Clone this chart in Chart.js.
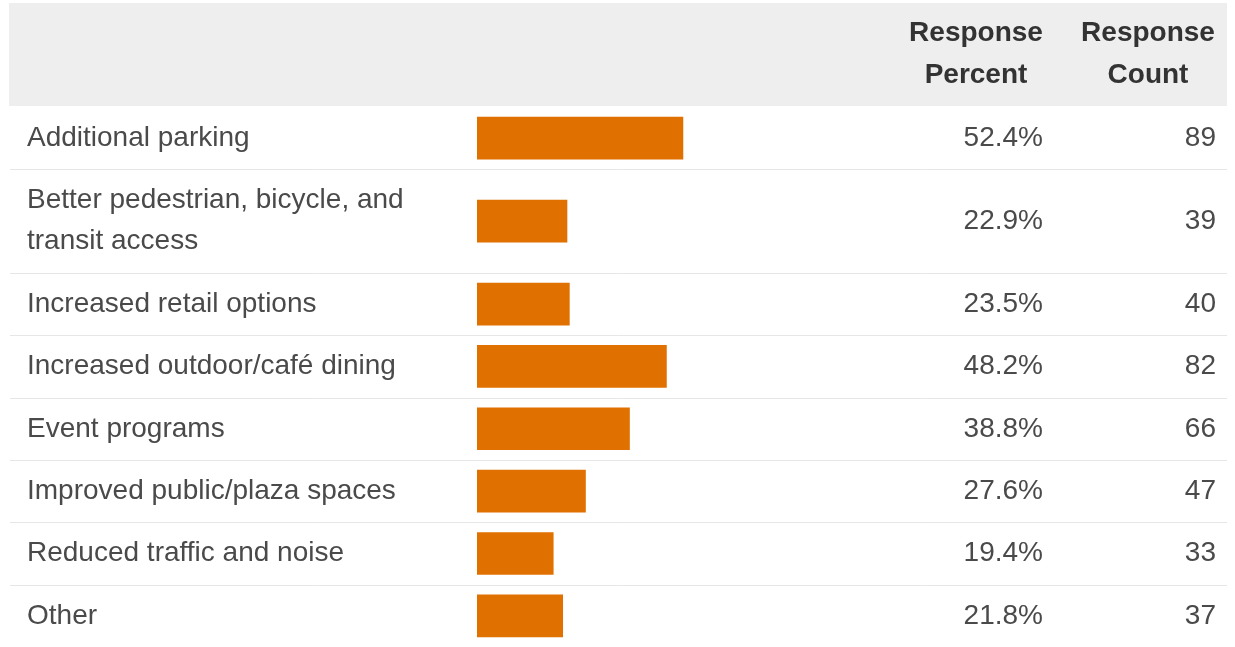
<!DOCTYPE html>
<html>
<head>
<meta charset="utf-8">
<script src="https://cdn.jsdelivr.net/npm/chart.js@4/dist/chart.umd.min.js"></script>
<style>
    html, body { margin: 0; padding: 0; background: #ffffff; }
    #wrap { position: relative; width: 1235px; height: 647px; font-family: "Liberation Sans"; }
</style>
</head>
<body>
<div id="wrap"><canvas id="surveyChart"></canvas></div>
<script>
// answer choices (one inner array per text line)
const choices = [
    ['Additional parking'],
    ['Better pedestrian, bicycle, and', 'transit access'],
    ['Increased retail options'],
    ['Increased outdoor/café dining'],
    ['Event programs'],
    ['Improved public/plaza spaces'],
    ['Reduced traffic and noise'],
    ['Other']
];
const responsePercent = [52.4, 22.9, 23.5, 48.2, 38.8, 27.6, 19.4, 21.8];
const responseCount = [89, 39, 40, 82, 66, 47, 33, 37];
const headerPercent = ['Response', 'Percent'];
const headerCount = ['Response', 'Count'];

const FONT = '"Liberation Sans", Arial, sans-serif';
const LINE = 41;
const PAD = 21;

// row layout in pixel-like units, taller rows for wrapped labels
let rowTop = [];
let rowMid = [];
let acc = 0;
choices.forEach(lines => {
    let h = PAD + LINE * lines.length;
    rowTop.push(acc);
    rowMid.push(acc + h / 2);
    acc += h;
});
rowTop.push(acc);
const total = acc;

const points = responsePercent.map((v, i) => ({x: v, y: rowMid[i]}));

const tablePlugin = {
    id: 'tablePlugin',
    afterDraw(chart) {
        const ctx = chart.ctx;
        const ys = chart.scales.y;
        ctx.save();

        // header band
        ctx.fillStyle = '#eeeeee';
        ctx.fillRect(9, 3, 1218, 103);
        ctx.fillStyle = '#333333';
        ctx.font = 'bold 28px ' + FONT;
        ctx.textAlign = 'center';
        ctx.textBaseline = 'middle';
        ctx.fillText(headerPercent[0], 976, 33);
        ctx.fillText(headerPercent[1], 976, 75);
        ctx.fillText(headerCount[0], 1148, 33);
        ctx.fillText(headerCount[1], 1148, 75);

        // row separators
        ctx.strokeStyle = '#e6e6e6';
        ctx.lineWidth = 1;
        for (let i = 1; i < choices.length; i++) {
            let y = Math.round(ys.getPixelForValue(rowTop[i])) + 0.5;
            ctx.beginPath();
            ctx.moveTo(10, y);
            ctx.lineTo(1227, y);
            ctx.stroke();
        }

        // row texts
        ctx.font = '28px ' + FONT;
        ctx.fillStyle = '#4a4a4a';
        choices.forEach((lines, i) => {
            let mid = ys.getPixelForValue(rowMid[i]);
            let start = mid - (lines.length - 1) * LINE / 2;
            ctx.textAlign = 'left';
            lines.forEach((txt, j) => ctx.fillText(txt, 27, start + j * LINE));
            ctx.textAlign = 'right';
            ctx.fillText(responsePercent[i].toFixed(1) + '%', 1043, mid);
            ctx.fillText(String(responseCount[i]), 1216, mid);
        });
        ctx.restore();
    }
};

function drawChart() {
    new Chart(document.getElementById('surveyChart'), {
        type: 'bar',
        data: {
            datasets: [{
                data: points,
                backgroundColor: '#e07000',
                borderWidth: 0,
                barThickness: 42
            }]
        },
        options: {
            indexAxis: 'y',
            responsive: true,
            maintainAspectRatio: false,
            animation: false,
            layout: {padding: {left: 477, right: 365, top: 107, bottom: 0}},
            scales: {
                x: {type: 'linear', min: 0, max: 100, display: false},
                y: {type: 'linear', min: 0, max: total, reverse: true, offset: false, display: false}
            },
            plugins: {
                legend: {display: false},
                tooltip: {enabled: false}
            }
        },
        plugins: [tablePlugin]
    });
}

Promise.all([
    document.fonts.load('28px "Liberation Sans"'),
    document.fonts.load('bold 28px "Liberation Sans"')
]).then(drawChart, drawChart);
</script>
</body>
</html>
